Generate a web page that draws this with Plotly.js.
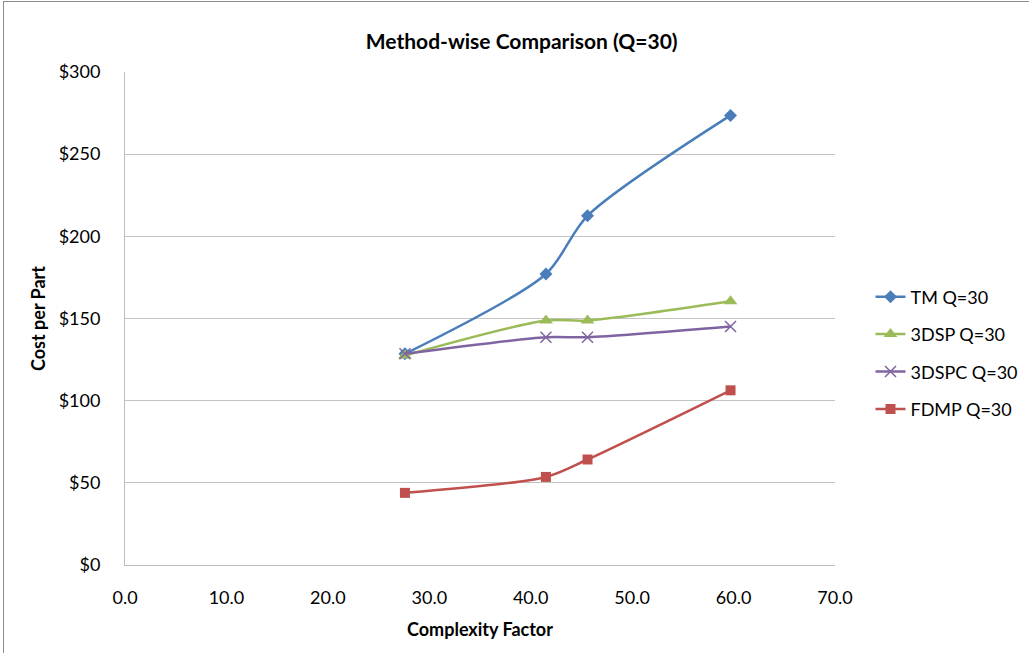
<!DOCTYPE html>
<html>
<head>
<meta charset="utf-8">
<script src="https://cdn.plot.ly/plotly-3.0.1.min.js"></script>
<style>
  html, body { margin: 0; padding: 0; background: #fff; }
  #wrap { position: relative; width: 1029px; height: 653px; }
  #chart { width: 1029px; height: 653px; }
  #frame { position: absolute; left: 3px; top: 1px; width: 1040px; height: 700px;
           border-left: 1px solid #8c8c8c; border-top: 1px solid #8c8c8c; pointer-events: none; }
</style>
</head>
<body>
<div id="wrap">
  <div id="chart"></div>
  <div id="frame"></div>
</div>
<script>
// Complexity factor of each part and cost per part for each method at Q=30
const complexity = [27.6, 41.5, 45.6, 59.7];
const tmCost     = [128.5, 177.1, 212.5, 273.6];
const dspCost    = [127.5, 148.8, 148.8, 160.5];
const dspcCost   = [128.5, 138.6, 138.6, 145.1];
const fdmpCost   = [43.9, 53.6, 64.2, 106.3];

const seriesNames = ['TM Q=30', '3DSP Q=30', '3DSPC Q=30', 'FDMP Q=30'];
const xTickVals = [0, 10, 20, 30, 40, 50, 60, 70];
const xTickText = ['0.0', '10.0', '20.0', '30.0', '40.0', '50.0', '60.0', '70.0'];
const yTickVals = [0, 50, 100, 150, 200, 250, 300];
const yTickText = ['$0', '$50', '$100', '$150', '$200', '$250', '$300'];

const FONT = 'Lato, "Open Sans", "DejaVu Sans", sans-serif';

function series(name, y, color, symbol, size, markerLine) {
  return {
    x: complexity, y: y, name: name, legendgroup: name, type: 'scatter', mode: 'lines+markers',
    line: { color: color, width: 2.5, shape: 'spline', smoothing: 0.8 },
    marker: markerLine
      ? { symbol: symbol, size: size, color: color, line: { color: color, width: 1.5 } }
      : { symbol: symbol, size: size, color: color }
  };
}

const data = [
  series(seriesNames[0], tmCost,   '#4a7ebb', 'diamond', 10, false),
  series(seriesNames[1], dspCost,  '#9bbb59', 'triangle-up', 12, false),
  series(seriesNames[2], dspcCost, '#8064a2', 'x-thin', 11, true),
  series(seriesNames[3], fdmpCost, '#c0504d', 'square', 10, false)
];

const layout = {
  width: 1029, height: 653,
  paper_bgcolor: '#ffffff', plot_bgcolor: '#ffffff',
  margin: { l: 125, r: 194, t: 72, b: 88, autoexpand: false },
  font: { family: FONT, size: 18, color: '#000' },
  title: { text: '<b>Method-wise Comparison (Q=30)</b>', x: 0.507, xref: 'container',
           y: 0.948, yref: 'container', font: { family: FONT, size: 21, color: '#000' } },
  xaxis: {
    range: [0, 70], tickvals: xTickVals, ticktext: xTickText,
    showgrid: false, zeroline: false, showline: true, linecolor: '#bdbdbd', linewidth: 1,
    ticks: '', ticklabelstandoff: 16, tickfont: { family: FONT, size: 18, color: '#000' },
    title: { text: '<b>Complexity Factor</b>', standoff: 16, font: { family: FONT, size: 18, color: '#000' } }
  },
  yaxis: {
    range: [0, 300], tickvals: yTickVals, ticktext: yTickText,
    showgrid: true, gridcolor: '#c4c4c4', gridwidth: 1, zeroline: false,
    showline: true, linecolor: '#bdbdbd', linewidth: 1,
    ticks: '', ticklabelstandoff: 20, tickfont: { family: FONT, size: 18, color: '#000' },
    title: { text: '<b>Cost per Part</b>', standoff: 8, font: { family: FONT, size: 18, color: '#000' } }
  },
  legend: {
    x: 1.05, xanchor: 'left', y: 0.43, yanchor: 'middle',
    font: { family: FONT, size: 18, color: '#000' },
    traceorder: 'grouped', tracegroupgap: 11, bgcolor: 'rgba(0,0,0,0)'
  },
  showlegend: true
};

Plotly.newPlot('chart', data, layout, { displayModeBar: false, staticPlot: true });
</script>
</body>
</html>
